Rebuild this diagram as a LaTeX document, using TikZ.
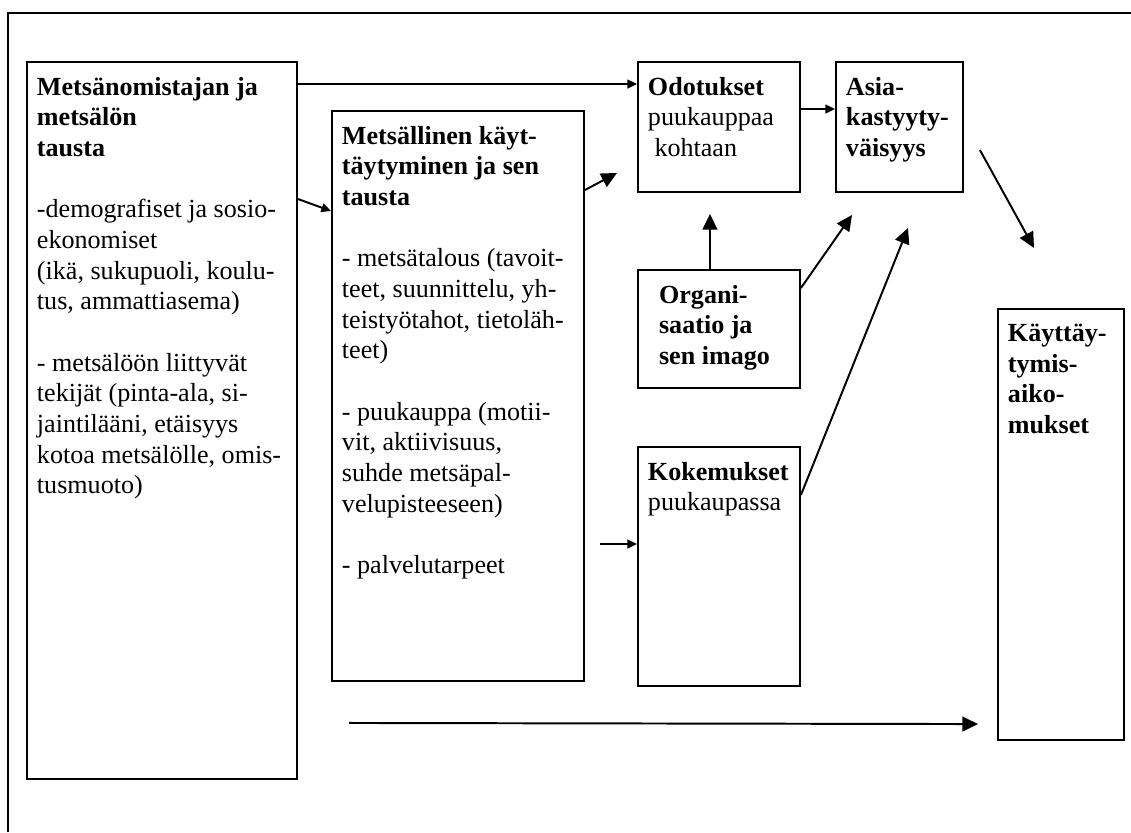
\documentclass[tikz,border=0pt]{standalone}
\usepackage{fontspec}
\setmainfont{Liberation Serif}
\usetikzlibrary{arrows.meta,positioning,calc}

% text of a box: width, height, lines (top aligned)
\newcommand{\boxtext}[3]{\parbox[t][#2][t]{#1}{\raggedright\leftskip=4.6pt\vspace*{7pt}#3}}

\begin{document}
\begin{tikzpicture}[x=0.46pt, y=-0.46pt, font=\fontsize{12}{14.1}\selectfont]
			\tikzstyle{Box}   = [draw, line width=0.9pt, anchor=north west, inner sep=0pt]
			\tikzstyle{Small} = [-{Triangle[length=4.4pt, width=4pt]}, line width=0.9pt]
			\tikzstyle{Big}   = [-{Triangle[length=7.2pt, width=6.8pt]}, line width=0.9pt]

			\useasboundingbox (0,0) rectangle (1131,832);
			\draw [line width=0.9pt] (8,832) -- (8,13) -- (1131,13);

			\node (tausta) at (26,61) [Box] {\boxtext{124.2pt}{329.8pt}{%
				\textbf{Metsänomistajan ja}\\ \textbf{metsälön}\\ \textbf{tausta}\\[\baselineskip]
				-demografiset ja sosio-\\ ekonomiset\\ (ikä, sukupuoli, koulu-\\ tus, ammattiasema)\\[\baselineskip]
				- metsälöön liittyvät\\ tekijät (pinta-ala, si-\\ jaintilääni, etäisyys\\ kotoa metsälölle, omis-\\ tusmuoto)}};
			\node (kaytos) at (331,110) [Box] {\boxtext{115.9pt}{262.2pt}{%
				\textbf{Metsällinen käyt-}\\ \textbf{täytyminen ja sen}\\ \textbf{tausta}\\[\baselineskip]
				- metsätalous (tavoit-\\ teet, suunnittelu, yh-\\ teistyötahot, tietoläh-\\ teet)\\[\baselineskip]
				- puukauppa (motii-\\ vit, aktiivisuus,\\ suhde metsäpal-\\ velupisteeseen)\\[\baselineskip]
				- palvelutarpeet}};
			\node (odot) at (637,61) [Box] {\boxtext{74.5pt}{59.8pt}{%
				\textbf{Odotukset}\\ puukauppaa\\ \hspace*{3pt}kohtaan}};
			\node (asia) at (835,61) [Box] {\boxtext{58.4pt}{59.8pt}{%
				\textbf{Asia-}\\ \textbf{kastyyty-}\\ \textbf{väisyys}}};
			\node (org) at (637,269) [Box] {\boxtext{74.5pt}{54.3pt}{\leftskip=9.7pt
				\textbf{Organi-}\\ \textbf{saatio ja}\\ \textbf{sen imago}}};
			\node (koke) at (637,446) [Box] {\boxtext{74.5pt}{109.9pt}{%
				\textbf{Kokemukset}\\ puukaupassa}};
			\node (aikeet) at (997,308) [Box] {\boxtext{58pt}{198.3pt}{%
				\textbf{Käyttäy-}\\ \textbf{tymis-}\\ \textbf{aiko-}\\ \textbf{mukset}}};

			\coordinate (c1) at ($(koke.north west)+(-37,98)$);
			\coordinate (c2) at ($(kaytos.south west)+(18,41)$);
			\coordinate (c3) at ($(asia.north east)+(16,89)$);

			\draw [Small] ($(tausta.north east)+(0,23)$) to ($(odot.north west)+(0,23)$);
			\draw [Small] ($(tausta.north east)+(0,138)$) to ($(kaytos.north west)+(0,101)$);
			\draw [Big]   ($(kaytos.north east)+(0,80)$) to ($(odot.south west)+(-20,-20)$);
			\draw [Small] ($(odot.north east)+(0,48)$) to ($(asia.north west)+(0,48)$);
			\draw [Big]   ($(org.north)+(-9,0)$) to ($(odot.south)+(-9,21)$);
			\draw [Big]   ($(org.north east)+(0,19)$) to ($(asia.south west)+(17,22)$);
			\draw [Big]   ($(koke.north east)+(0,49)$) to ($(asia.south west)+(73,35)$);
			\draw [Big]   (c3) to ($(aikeet.north)+(-27,-60)$);
			\draw [Small] (c1) to ($(koke.north west)+(0,98)$);
			\draw [Big]   (c2) to ($(aikeet.south west)+(-19,-17)$);
		\end{tikzpicture}
\end{document}
